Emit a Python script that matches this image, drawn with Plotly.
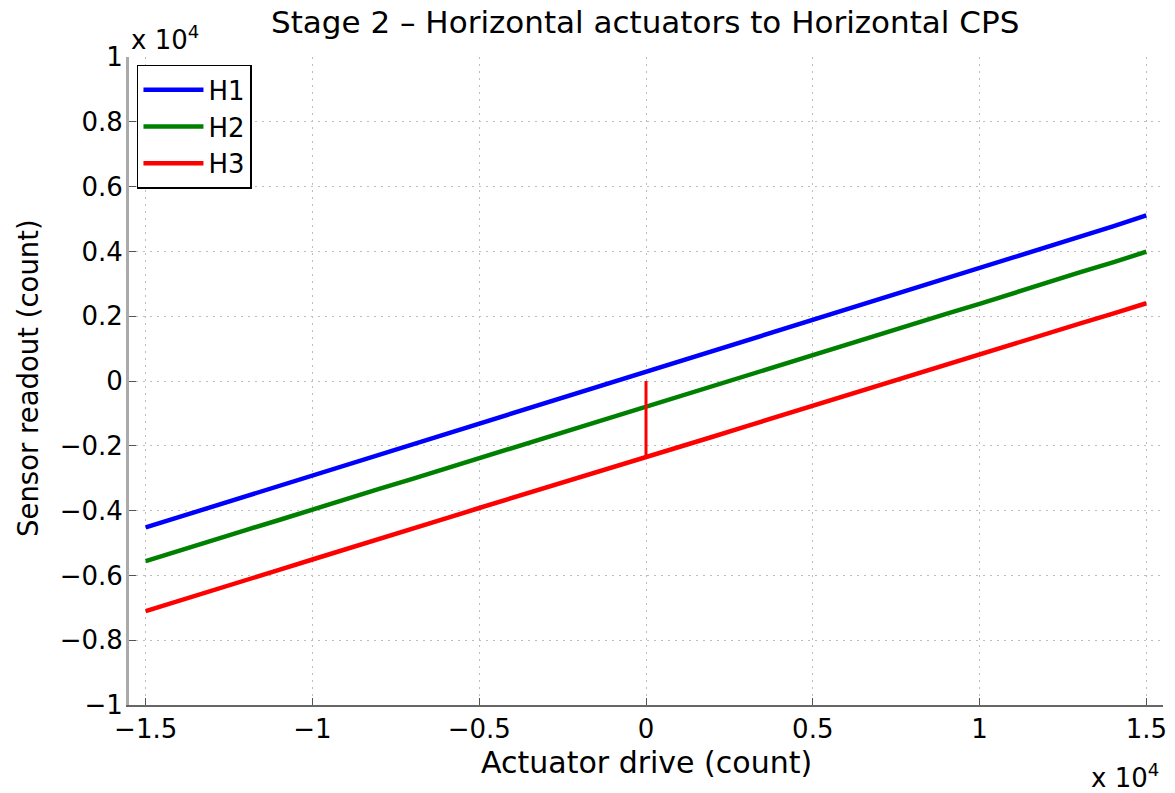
import plotly.graph_objects as go

# Data (counts)
x_drive = [-15000, -14000, -13000, -12000, -11000, -10000, -9000, -8000, -7000, -6000,
           -5000, -4000, -3000, -2000, -1000, 0, 1000, 2000, 3000, 4000, 5000, 6000,
           7000, 8000, 9000, 10000, 11000, 12000, 13000, 14000, 15000]
h1 = [-4520, -4200, -3860, -3560, -3230, -2920, -2580, -2270, -1950, -1640, -1300,
      -1000, -670, -360, -30, 300, 600, 930, 1250, 1560, 1880, 2200, 2520, 2830, 3160,
      3480, 3800, 4120, 4440, 4770, 5110]
h2 = [-5560, -5230, -4930, -4600, -4290, -3960, -3660, -3330, -3020, -2700, -2390,
      -2060, -1750, -1420, -1110, -790, -470, -160, 170, 480, 800, 1120, 1430, 1760,
      2070, 2380, 2710, 3020, 3350, 3660, 3990]
h3 = [-7100, -6790, -6460, -6150, -5830, -5510, -5200, -4870, -4560, -4240, -3920,
      -3610, -3290, -2970, -2670, -2350, -2030, -1720, -1400, -1080, -770, -450, -140,
      180, 500, 820, 1130, 1450, 1770, 2080, 2400]
h3_start_x = [0, 0]
h3_start_y = [0, -2350]

x_ticks = [-15000, -10000, -5000, 0, 5000, 10000, 15000]
x_tick_text = ["\u22121.5", "\u22121", "\u22120.5", "0", "0.5", "1", "1.5"]
y_ticks = [-10000, -8000, -6000, -4000, -2000, 0, 2000, 4000, 6000, 8000, 10000]
y_tick_text = ["\u22121", "\u22120.8", "\u22120.6", "\u22120.4", "\u22120.2", "0",
               "0.2", "0.4", "0.6", "0.8", "1"]

FONT = "DejaVu Sans, Liberation Sans, Arial, sans-serif"
FS_TICK = 26
FS_LABEL = 30

fig = go.Figure()
fig.add_trace(go.Scatter(x=x_drive, y=h1, mode="lines", name="H1",
                         line=dict(color="#0000FF", width=4.5)))
fig.add_trace(go.Scatter(x=x_drive, y=h2, mode="lines", name="H2",
                         line=dict(color="#008000", width=4.5)))
fig.add_trace(go.Scatter(x=x_drive, y=h3, mode="lines", name="H3", legendgroup="h3",
                         line=dict(color="#FF0000", width=4.5)))
fig.add_trace(go.Scatter(x=h3_start_x, y=h3_start_y, mode="lines", legendgroup="h3",
                         showlegend=False, line=dict(color="#FF0000", width=3)))

axis_common = dict(
    showgrid=True, gridcolor="#bdbdbd", griddash="2px,5px", gridwidth=1,
    zeroline=False, showline=True, automargin=False,
    ticks="inside", ticklen=7, tickcolor="#555555",
    tickfont=dict(family=FONT, size=FS_TICK, color="black"),
)
fig.update_xaxes(range=[-15500, 15500], tickvals=x_ticks, ticktext=x_tick_text,
                 linecolor="#666666", linewidth=1.5, **axis_common)
fig.update_yaxes(range=[-10000, 10000], tickvals=y_ticks, ticktext=y_tick_text,
                 linecolor="#aaaaaa", linewidth=3, ticklabelstandoff=-2, **axis_common)

ann = [
    dict(text="Stage 2 \u2013 Horizontal actuators to Horizontal CPS", x=0.499, y=1.054,
         xref="paper", yref="paper", xanchor="center", yanchor="middle", showarrow=False,
         font=dict(family=FONT, size=31, color="black")),
    dict(text="Actuator drive (count)", x=0.5, y=-0.0895, xref="paper", yref="paper",
         xanchor="center", yanchor="middle", showarrow=False,
         font=dict(family=FONT, size=FS_LABEL, color="black")),
    dict(text="Sensor readout (count)", x=-0.0977, y=0.5046, xref="paper", yref="paper",
         xanchor="center", yanchor="middle", textangle=-90, showarrow=False,
         font=dict(family=FONT, size=27.5, color="black")),
    dict(text="x 10<sup>4</sup>", x=0.0, y=1.0, xref="paper", yref="paper",
         xanchor="left", yanchor="bottom", showarrow=False,
         font=dict(family=FONT, size=FS_TICK, color="black")),
    dict(text="x 10<sup>4</sup>", x=0.998, y=-0.11, xref="paper", yref="paper",
         xanchor="right", yanchor="middle", showarrow=False,
         font=dict(family=FONT, size=FS_TICK, color="black")),
]

fig.update_layout(
    width=1175, height=793,
    margin=dict(l=129, r=12, t=57, b=88),
    paper_bgcolor="white", plot_bgcolor="white",
    showlegend=True,
    legend=dict(x=0.0077, y=0.988, xanchor="left", yanchor="top",
                bgcolor="white", bordercolor="black", borderwidth=1.5,
                font=dict(family=FONT, size=FS_TICK, color="black"),
                tracegroupgap=0, itemwidth=60),
    annotations=ann,
)

fig.write_html("out.html")
